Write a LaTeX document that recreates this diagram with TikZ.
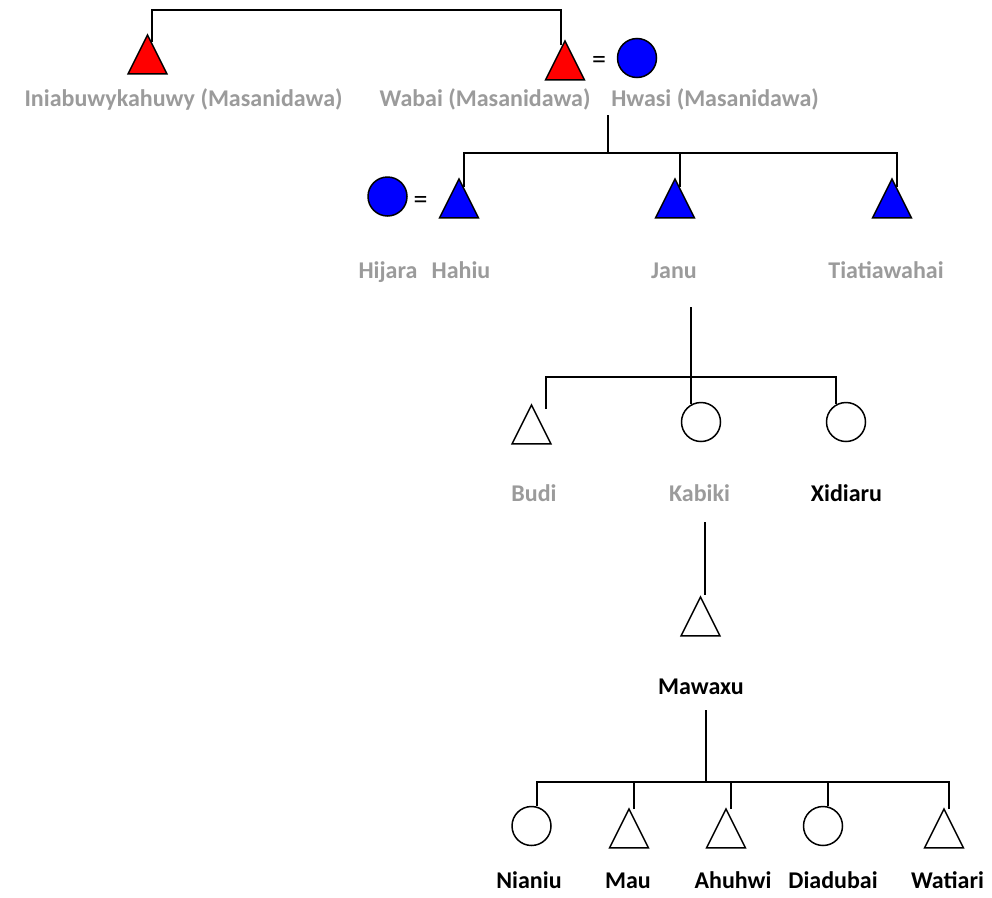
\documentclass[tikz,border=0pt]{standalone}
\usepackage{fontspec}
\setmainfont{Carlito}
\usetikzlibrary{positioning, shapes.geometric, backgrounds}

\definecolor{namegray}{RGB}{155,155,155}
\definecolor{kinred}{RGB}{255,0,0}
\definecolor{kinblue}{RGB}{0,0,255}

\begin{document}
\begin{tikzpicture}[
    x=1pt, y=-1pt,
    % Style definitions
    male/.style={
        isosceles triangle, isosceles triangle stretches,
        shape border rotate=90, draw=black, line width=1.5pt,
        minimum width=39pt, minimum height=39pt, inner sep=0pt,
        anchor=apex
    },
    female/.style={
        circle, draw=black, line width=1.5pt,
        minimum size=39pt, inner sep=0pt
    },
    kin/.style={
        draw=black, line width=2pt
    },
    personname/.style={
        font=\fontsize{24}{28}\selectfont\bfseries,
        text=namegray, anchor=base, inner sep=0pt
    },
    personbold/.style={
        personname, text=black
    },
    marry/.style={
        font=\fontsize{28}{30}\selectfont, inner sep=0pt
    },
]

% Label baselines (top to bottom)
\def\rowA{106.5}
\def\rowB{278}
\def\rowC{501}
\def\rowD{694}
\def\rowE{888}

\useasboundingbox (0,0) rectangle (992,897);

% === Generation 1 ===
\node[male, fill=kinred] (ini) at (147.5, 33) {};
\node[male, fill=kinred] (wabai) at (565, 39) {};
\node[marry] (eqA) at (599, 62) {=};
\node[female, fill=kinblue] (hwasi) at (637, 58) {};
\node[personname] (iniL) at (183.5, \rowA) {Iniabuwykahuwy (Masanidawa)};
\node[personname] (wabaiL) at (485, \rowA) {Wabai (Masanidawa)};
\node[personname] (hwasiL) at (715, \rowA) {Hwasi (Masanidawa)};

% === Generation 2 ===
\node[female, fill=kinblue] (hijara) at (387.5, 196.5) {};
\node[marry] (eqB) at (420.5, 202.5) {=};
\node[male, fill=kinblue] (hahiu) at (459, 177) {};
\node[male, fill=kinblue] (janu) at (675, 177) {};
\node[male, fill=kinblue] (tiat) at (892, 177) {};
\node[personname] (hijaraL) at (388, \rowB) {Hijara};
\node[personname] (hahiuL) at (461, \rowB) {Hahiu};
\node[personname] (januL) at (674, \rowB) {Janu};
\node[personname] (tiatL) at (886, \rowB) {Tiatiawahai};

% === Generation 3 ===
\node[male, fill=white] (budi) at (531.5, 403) {};
\node[female, fill=white] (kabiki) at (701, 422) {};
\node[female, fill=white] (xidiaru) at (846, 422) {};
\node[personname] (budiL) at (534, \rowC) {Budi};
\node[personname] (kabikiL) at (699.5, \rowC) {Kabiki};
\node[personbold] (xidiaruL) at (846.5, \rowC) {Xidiaru};

% === Generation 4 ===
\node[male, fill=white] (mawaxu) at (700.5, 595) {};
\node[personbold] (mawaxuL) at (701, \rowD) {Mawaxu};

% === Generation 5 ===
\node[female, fill=white] (nianiu) at (531.5, 826) {};
\node[male, fill=white] (mau) at (629, 807) {};
\node[male, fill=white] (ahuhwi) at (726, 807) {};
\node[female, fill=white] (diadubai) at (823, 826) {};
\node[male, fill=white] (watiari) at (944, 807) {};
\node[personbold] (nianiuL) at (529, \rowE) {Nianiu};
\node[personbold] (mauL) at (628, \rowE) {Mau};
\node[personbold] (ahuhwiL) at (733, \rowE) {Ahuhwi};
\node[personbold] (diadubaiL) at (833, \rowE) {Diadubai};
\node[personbold] (watiariL) at (947.5, \rowE) {Watiari};

% === Descent bars ===
\coordinate (bar0) at (356, 10);
\coordinate (wedA) at (608, 115);
\coordinate (bar1) at (608, 153);
\coordinate (januDown) at (691, 307);
\coordinate (bar2) at (691, 377);
\coordinate (kabikiDown) at (705, 522);
\coordinate (mawaxuDown) at (706, 710);
\coordinate (bar3) at (706, 782);

\begin{scope}[on background layer]
\fill[white] (0,0) rectangle (992,897);
\draw[kin] ([xshift=4pt,yshift=-9pt]ini.apex) |- (bar0);
\draw[kin] ([xshift=-4.5pt,yshift=-6pt]wabai.apex) |- (bar0);
\draw[kin] (wedA) -- (bar1);
\foreach \c in {hahiu, janu, tiat}
    \draw[kin] ([xshift=5pt,yshift=-10pt]\c.apex) |- (bar1);
\draw[kin] (januDown) -- (bar2);
\draw[kin] ([xshift=14.5pt,yshift=-6pt]budi.apex) |- (bar2);
\foreach \c in {kabiki, xidiaru}
    \draw[kin] ([xshift=-10pt,yshift=-2pt]\c.north) |- (bar2);
\draw[kin] (kabikiDown) -- (kabikiDown |- mawaxu.apex);
\draw[kin] (mawaxuDown) -- (bar3);
\foreach \c in {mau, ahuhwi, watiari}
    \draw[kin] ([xshift=5pt,yshift=-2pt]\c.apex) |- (bar3);
\foreach \c in {nianiu, diadubai}
    \draw[kin] ([xshift=5pt]\c.north) |- (bar3);
\end{scope}

\end{tikzpicture}
\end{document}
